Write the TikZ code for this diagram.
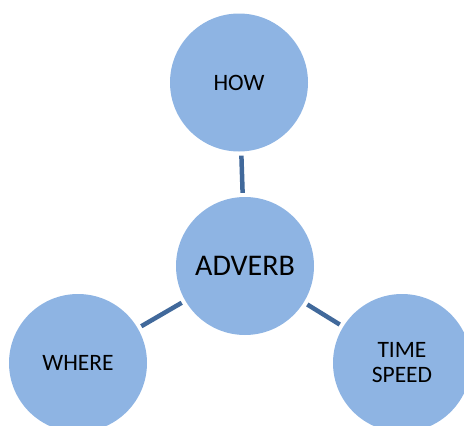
\documentclass[tikz,border=0pt]{standalone}
\usepackage{fontspec}
\setmainfont{Carlito}
\definecolor{bubblefill}{HTML}{8EB4E3}
\definecolor{linkblue}{HTML}{41699B}

\begin{document}
\begin{tikzpicture}[x=1pt, y=-1pt,
  bubble/.style={circle, fill=bubblefill, minimum size=138pt, inner sep=0pt, align=center, font=\fontsize{23.5}{25}\selectfont},
  link/.style={draw=linkblue, line width=4.5pt, shorten <=4pt, shorten >=4pt}]
\useasboundingbox (0,0) rectangle (464,426);
\clip (0,0) rectangle (464,426);
\node[bubble] (how) at (239,82.5) {HOW};
\node[bubble, font=\fontsize{30}{32}\selectfont] (adverb) at (245,266) {ADVERB};
\node[bubble] (where) at (78,363) {WHERE};
\node[bubble] (time) at (402,363) {TIME\\SPEED};
\draw[link] (how) -- (adverb);
\draw[link] (adverb) -- (where);
\draw[link] (adverb) -- (time);
\end{tikzpicture}
\end{document}
